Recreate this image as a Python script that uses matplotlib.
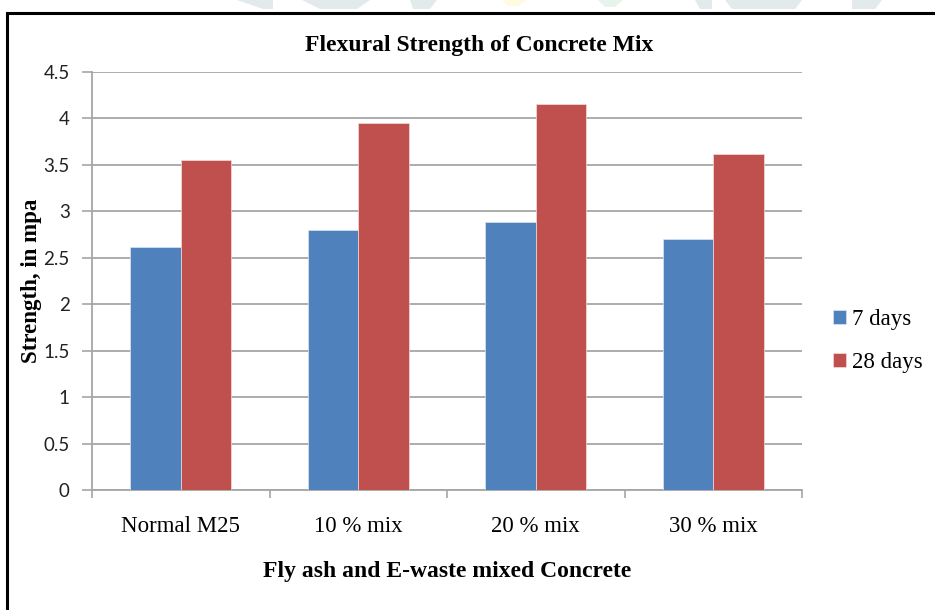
import numpy as np
import matplotlib
matplotlib.use("Agg")
import matplotlib.pyplot as plt
from matplotlib.patches import Rectangle, Polygon

# ------------------------------------------------------------------ #
# Data                                #
# ------------------------------------------------------------------ #
categories = ["Normal M25", "10 % mix", "20 % mix", "30 % mix"]
days_7     = [2.62, 2.80, 2.89, 2.70]
days_28    = [3.55, 3.95, 4.16, 3.62]
series_labels = ["7 days", "28 days"]
yticks = [0, 0.5, 1, 1.5, 2, 2.5, 3, 3.5, 4, 4.5]

colours = ["#4F81BD", "#C0504D"]
grid_col = "#A6A6A6"
serif = ["Liberation Serif", "DejaVu Serif"]

W, H = 935, 610
fig = plt.figure(figsize=(W / 100, H / 100), dpi=100)
ax = fig.add_axes([92 / W, 1 - 490 / H, (802 - 92) / W, (490 - 72) / H])

x = np.arange(len(categories))
w = 0.284
ax.bar(x - w / 2, days_7, width=w, color=colours[0], edgecolor="#DCE6F2",
       linewidth=0.5, label=series_labels[0], zorder=3)
ax.bar(x + w / 2, days_28, width=w, color=colours[1], edgecolor="#F2DCDB",
       linewidth=0.5, label=series_labels[1], zorder=3)

ax.set_xlim(-0.5, len(categories) - 0.5)
ax.set_ylim(0, 4.5)
ax.set_yticks(yticks)
ax.set_yticklabels([f"{t:g}" for t in yticks], fontsize=13.5,
                   family=["Lato", "DejaVu Sans"], color="#222222")
ax.yaxis.grid(True, color=grid_col, linewidth=1.3, zorder=0)

# category ticks sit on the boundaries between groups
ax.set_xticks(np.arange(len(categories) + 1) - 0.5)
ax.set_xticklabels([])
ax.set_xticks(x, minor=True)
ax.set_xticklabels(categories, minor=True, fontsize=16.5, family=serif)
ax.tick_params(axis="x", which="minor", length=0, pad=19)
ax.tick_params(axis="x", which="major", length=6, color=grid_col, width=1.2)
ax.tick_params(axis="y", length=7, color=grid_col, width=1.2, pad=9)

for side in ["top", "right"]:
    ax.spines[side].set_visible(False)
for side in ["left", "bottom"]:
    ax.spines[side].set_color(grid_col)
    ax.spines[side].set_linewidth(1.3)

fig.text(479 / W, 1 - 45 / H, "Flexural Strength of Concrete Mix",
         ha="center", va="center", fontsize=17, fontweight="bold", family=serif)
fig.text(31 / W, 1 - 281 / H, "Strength, in mpa", rotation=90,
         ha="center", va="center", fontsize=16.5, fontweight="bold", family=serif)
fig.text(447 / W, 1 - 572 / H, "Fly ash and E-waste mixed Concrete",
         ha="center", va="center", fontsize=17, fontweight="bold", family=serif)

fig.legend(loc="center left", bbox_to_anchor=(815 / W, 1 - 341 / H),
           frameon=False, prop={"family": serif, "size": 16.5},
           handlelength=0.55, handleheight=0.55, handletextpad=0.25,
           labelspacing=0.95, borderpad=0.3)

# outer border of the chart box
fig.patches.append(Rectangle((7 / W, -0.05), 1.0, 1 - 13 / H + 0.05,
                             transform=fig.transFigure, fill=False,
                             edgecolor="black", linewidth=2.2))

# faint page watermark peeking out above the box
marks = [
    ([(237, 0), (273, 0), (273, 9), (263, 9)], "#E3EAEC"),
    ([(302, 0), (370, 0), (357, 9), (320, 9)], "#E3EAEC"),
    ([(410, 0), (437, 0), (430, 9), (413, 9)], "#E3EAEC"),
    ([(502, 0), (527, 0), (518, 6), (508, 6)], "#FFFBE3"),
    ([(598, 0), (623, 0), (615, 7), (605, 7)], "#E6F4EC"),
    ([(695, 0), (712, 0), (712, 9), (700, 9)], "#E3EAEC"),
    ([(725, 0), (802, 0), (795, 9), (732, 9)], "#E3EAEC"),
    ([(852, 0), (882, 0), (875, 9), (852, 9)], "#E3EAEC"),
]
for pts, col in marks:
    fig.patches.append(Polygon([(px / W, 1 - py / H) for px, py in pts],
                               closed=True, transform=fig.transFigure,
                               facecolor=col, edgecolor="none"))

fig.savefig("out.png", dpi=100)
